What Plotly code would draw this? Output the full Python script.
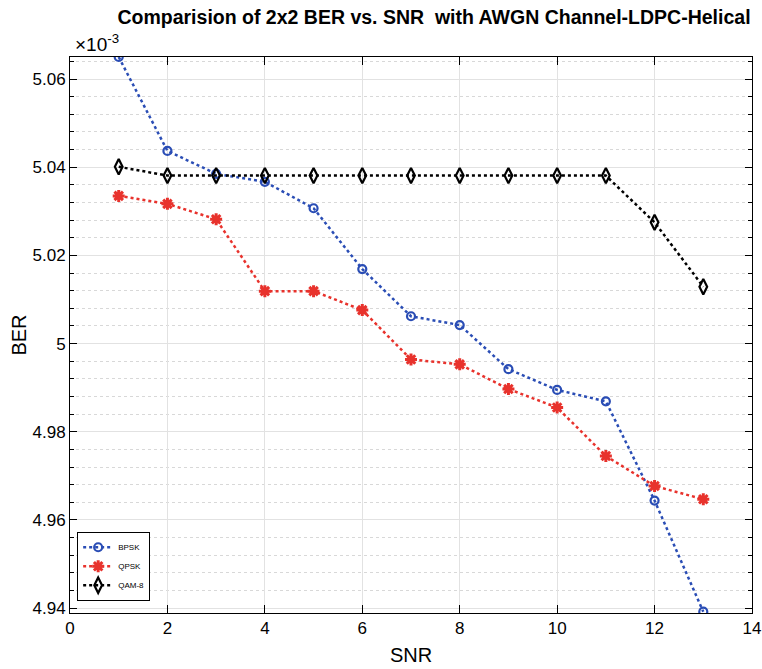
import plotly.graph_objects as go

snr = [1, 2, 3, 4, 5, 6, 7, 8, 9, 10, 11, 12, 13]
# BER values in units of 1e-3
ber_bpsk = [5.0650, 5.0437, 5.0385, 5.0367, 5.0307, 5.0169, 5.0062, 5.0042, 4.9942, 4.9895, 4.9869, 4.9644, 4.9392]
ber_qpsk = [5.0335, 5.0317, 5.0282, 5.0119, 5.0119, 5.0076, 4.9964, 4.9953, 4.9897, 4.9855, 4.9745, 4.9677, 4.9647]
ber_qam8 = [5.0401, 5.0381, 5.0381, 5.0381, 5.0381, 5.0381, 5.0381, 5.0381, 5.0381, 5.0381, 5.0381, 5.0275, 5.0129]

y_tickvals = [4.94, 4.96, 4.98, 5.00, 5.02, 5.04, 5.06]
y_ticktext = ["4.94", "4.96", "4.98", "5", "5.02", "5.04", "5.06"]
x_tickvals = [0, 2, 4, 6, 8, 10, 12, 14]

FONT = "Liberation Sans, Arial, Helvetica, sans-serif"

fig = go.Figure()
fig.add_trace(go.Scatter(
    x=snr, y=ber_bpsk, name="BPSK", mode="lines+markers",
    line=dict(color="#2a4db5", width=2.5, dash="dot"),
    marker=dict(symbol="circle-open", size=8, color="#2a4db5", line=dict(width=2.2, color="#2a4db5")),
))
fig.add_trace(go.Scatter(
    x=snr, y=ber_qpsk, name="QPSK", mode="lines+markers",
    line=dict(color="#e8322c", width=2.5, dash="dot"),
    marker=dict(symbol="asterisk-open", size=10, color="#e8322c", line=dict(width=3, color="#e8322c")),
))
fig.add_trace(go.Scatter(
    x=snr, y=ber_qam8, name="QAM-8", mode="lines+markers",
    line=dict(color="black", width=2.5, dash="dot"),
    marker=dict(symbol="diamond-tall-open", size=11, color="black", line=dict(width=2.2, color="black")),
))

fig.update_layout(
    width=762, height=669,
    margin=dict(l=70, r=10, t=57, b=56),
    paper_bgcolor="white", plot_bgcolor="white",
    font=dict(family=FONT, size=15, color="black"),
    title=dict(text="<b>Comparision of 2x2 BER vs. SNR  with AWGN Channel-LDPC-Helical</b>",
               x=434 / 762, xanchor="center", y=1 - 17 / 669, yanchor="middle",
               font=dict(family=FONT, size=19.5, color="black")),
    showlegend=True,
    legend=dict(x=0.0105, y=0.022, xanchor="left", yanchor="bottom",
                bgcolor="white", bordercolor="black", borderwidth=1,
                font=dict(family=FONT, size=8), tracegroupgap=0, itemwidth=30),
    xaxis=dict(
        range=[0, 14], tickvals=x_tickvals, ticks="inside", ticklen=8, tickcolor="black",
        showline=True, linecolor="black", linewidth=1, mirror="ticks",
        showgrid=True, gridcolor="#e2e2e2", gridwidth=1, zeroline=False,
        title=dict(text="SNR", font=dict(size=20), standoff=10),
        tickfont=dict(size=17), automargin=False,
    ),
    yaxis=dict(
        range=[4.9389, 5.0650], tickvals=y_tickvals, ticktext=y_ticktext,
        ticks="inside", ticklen=7, tickcolor="black",
        showline=True, linecolor="black", linewidth=1, mirror="ticks",
        showgrid=True, gridcolor="#e2e2e2", gridwidth=1, zeroline=False,
        minor=dict(tick0=4.94, dtick=0.004, ticks="inside", ticklen=4, tickcolor="black",
                   showgrid=True, gridcolor="#d8d8d8", griddash="dot", gridwidth=1),
        title=dict(text="BER", font=dict(size=20), standoff=0),
        tickfont=dict(size=17), automargin=False,
    ),
)

fig.add_annotation(xref="paper", yref="paper", x=0.005, y=1.0, xanchor="left", yanchor="bottom",
                   text="×10<sup>-3</sup>", showarrow=False, font=dict(family=FONT, size=19))

fig.write_html("out.html")
